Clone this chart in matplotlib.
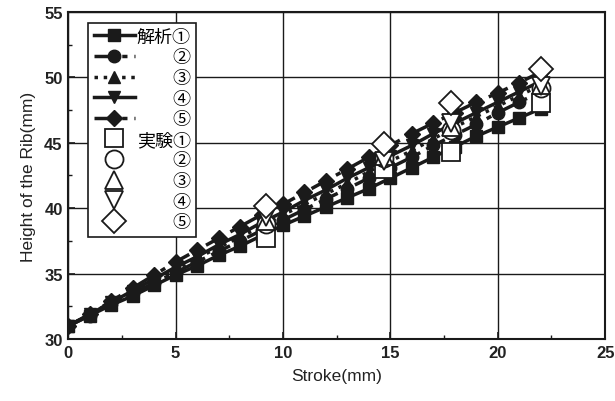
import numpy as np
import matplotlib
matplotlib.use("Agg")
import matplotlib.pyplot as plt
from matplotlib.ticker import MultipleLocator

plt.rcParams['font.family'] = ['Liberation Sans', 'Noto Sans CJK JP', 'DejaVu Sans']

# stroke positions of the analysis curves (mm)
stroke = list(range(0, 23))

# analysis (解析) curves 1..5
ana_1 = [31.0, 31.8, 32.6, 33.3, 34.1, 34.9, 35.6, 36.4, 37.1, 37.9, 38.7, 39.4,
         40.1, 40.8, 41.5, 42.3, 43.1, 43.9, 44.7, 45.5, 46.2, 46.9, 47.6]
ana_2 = [31.0, 31.8, 32.7, 33.5, 34.3, 35.1, 35.9, 36.7, 37.5, 38.3, 39.1, 39.9,
         40.7, 41.5, 42.3, 43.1, 43.9, 44.8, 45.6, 46.4, 47.3, 48.1, 48.9]
ana_3 = [31.0, 31.9, 32.8, 33.6, 34.5, 35.3, 36.2, 37.0, 37.8, 38.6, 39.5, 40.3,
         41.1, 41.9, 42.8, 43.6, 44.4, 45.3, 46.2, 47.0, 47.8, 48.6, 49.4]
ana_4 = [31.0, 31.9, 32.8, 33.7, 34.6, 35.5, 36.3, 37.2, 38.0, 38.9, 39.7, 40.6,
         41.4, 42.3, 43.1, 44.0, 44.8, 45.7, 46.5, 47.3, 48.1, 48.9, 49.7]
ana_5 = [31.0, 31.9, 32.9, 33.9, 34.9, 35.9, 36.8, 37.7, 38.6, 39.5, 40.3, 41.2,
         42.1, 43.0, 43.9, 44.8, 45.7, 46.5, 47.3, 48.1, 48.8, 49.6, 50.4]

# experiment (実験) points 1..5
exp_stroke = [9.2, 14.7, 17.8, 22.0]
exp_1 = [37.7, 43.0, 44.3, 48.0]
exp_2 = [38.8, 43.8, 46.0, 49.2]
exp_3 = [39.0, 44.0, 46.2, 49.4]
exp_4 = [39.3, 43.6, 46.5, 49.3]
exp_5 = [40.2, 44.9, 48.0, 50.6]

ana_labels = ['解析①', '　　②', '　　③', '　　④', '　　⑤']
exp_labels = ['実験①', '　　②', '　　③', '　　④', '　　⑤']

fig = plt.figure(figsize=(6.15, 4.02), dpi=100)
ax = fig.add_axes([0.111, 0.154, 0.873, 0.814])

ana_styles = [('-', 's'), ((0, (6, 2, 1.5, 2)), 'o'), (':', '^'), ('-', 'v'), ((0, (6, 2, 1.5, 2)), 'D')]
for ys, (ls, mk), lab in zip([ana_1, ana_2, ana_3, ana_4, ana_5], ana_styles, ana_labels):
    ax.plot(stroke, ys, linestyle=ls, marker=mk, color='#1a1a1a', lw=2.5,
            markersize=9 if mk != 'D' else 8, label=lab, zorder=3)

exp_markers = ['s', 'o', '^', 'v', 'D']
for ys, mk, lab in zip([exp_1, exp_2, exp_3, exp_4, exp_5], exp_markers, exp_labels):
    ax.plot(exp_stroke, ys, linestyle='none', marker=mk, markersize=13 if mk != 'D' else 12,
            markerfacecolor='white', markeredgecolor='#1a1a1a', markeredgewidth=1.3,
            label=lab, zorder=4)

ax.set_xlim(0, 25)
ax.set_ylim(30, 55)
ax.xaxis.set_major_locator(MultipleLocator(5))
ax.yaxis.set_major_locator(MultipleLocator(5))
ax.xaxis.set_minor_locator(MultipleLocator(2.5))
ax.yaxis.set_minor_locator(MultipleLocator(2.5))
ax.tick_params(which='both', direction='in', color='#1a1a1a')
ax.tick_params(which='major', length=5, width=1.2, labelsize=12, pad=4)
ax.tick_params(which='minor', length=3, width=1.0)
for lab in ax.get_xticklabels() + ax.get_yticklabels():
    lab.set_fontweight('bold')
    lab.set_color('#222222')
ax.grid(True, which='major', color='#1a1a1a', lw=1.0)
ax.set_axisbelow(True)
for sp in ax.spines.values():
    sp.set_linewidth(1.5)
    sp.set_color('#1a1a1a')

ax.set_xlabel('Stroke(mm)', fontsize=12.5, color='#222222', labelpad=6)
ax.set_ylabel('Height of the Rib(mm)', fontsize=12.5, color='#222222', labelpad=6)

leg = ax.legend(loc='upper left', bbox_to_anchor=(0.037, 0.965), fontsize=13,
                handlelength=2.3, handletextpad=0.1, labelspacing=0.2,
                borderpad=0.3, borderaxespad=0, fancybox=False, framealpha=1,
                edgecolor='#1a1a1a')
leg.get_frame().set_linewidth(1.2)
leg.set_zorder(10)

plt.savefig('out.png', dpi=100)
plt.close()
